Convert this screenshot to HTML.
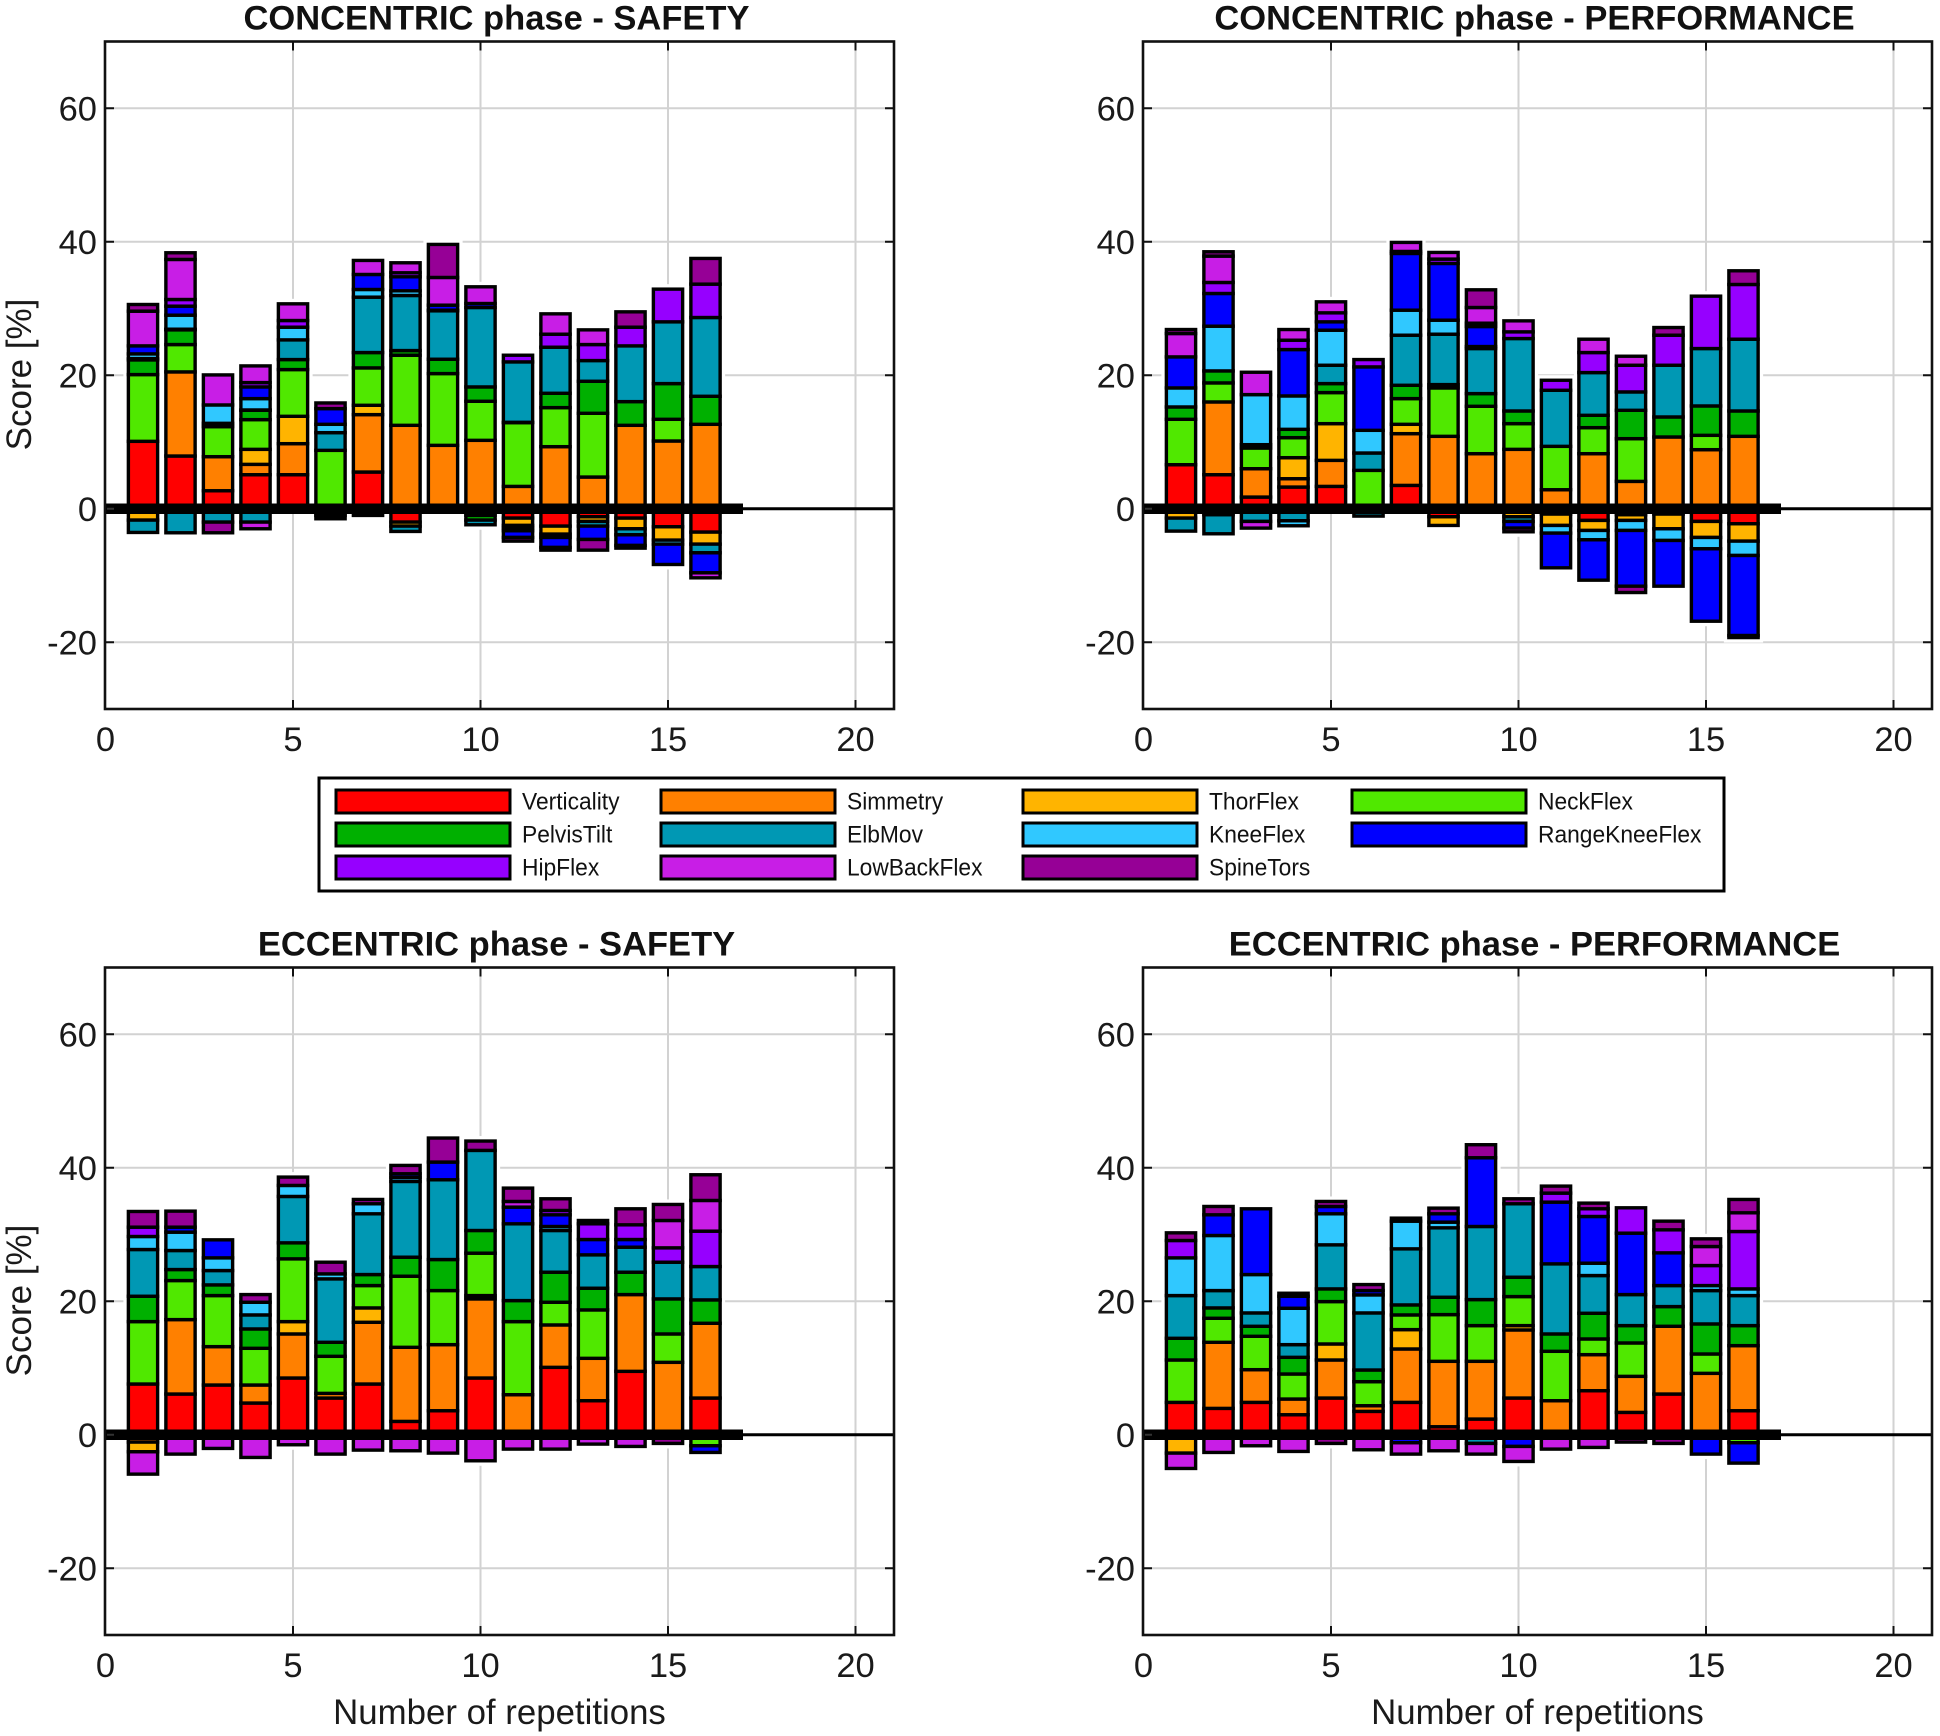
<!DOCTYPE html>
<html>
<head>
<meta charset="utf-8">
<title>Score per repetition</title>
<style>
html,body{margin:0;padding:0;background:#fff;}
svg{display:block;font-family:"Liberation Sans",Arial,sans-serif;}
</style>
</head>
<body>
<svg id="chart" xmlns="http://www.w3.org/2000/svg" width="1940" height="1736" viewBox="0 0 1940 1736"></svg>
<script>
/* Series, in stacking order */
const seriesNames = ["Verticality","Simmetry","ThorFlex","NeckFlex","PelvisTilt","ElbMov","KneeFlex","RangeKneeFlex","HipFlex","LowBackFlex","SpineTors"];
const seriesColors = ["#ff0000","#ff8000","#ffb400","#50e800","#00b000","#0098b4","#30c8ff","#0000ff","#9600ff","#c81ee6","#960096"];
const repetitions = [1,2,3,4,5,6,7,8,9,10,11,12,13,14,15,16];
const xTicks = [0,5,10,15,20];
const yTicks = [-20,0,20,40,60];

/* One row per repetition, columns follow seriesNames. Pos rows stack upward, Neg rows (magnitudes) stack downward. */
const concSafetyPos = [
[10.1,0,0,10,2.2,.2,.7,1.2,0,5.2,1],
[7.9,12.6,0,4.1,2.2,.1,2.1,1.35,1,6,1],
[2.7,5.1,0,4.5,.5,0,2.75,0,0,4.5,0],
[5.1,1.55,2.25,4.45,1.4,.05,1.7,1.75,.65,2.5,0],
[5.1,4.65,4.1,7,1.5,2.95,1.9,0,1,2.5,0],
[0,0,0,8.75,0,2.65,1.25,2.35,0,0,.85],
[5.5,8.6,1.4,5.6,2.3,8.3,1.15,2.25,0,2.1,0],
[0,12.5,0,10.5,.7,8.25,.7,2.1,.6,1.5,0],
[0,9.5,0,10.75,2.15,7.25,.1,.75,0,4.15,4.95],
[0,10.25,0,5.85,2.15,11.9,0,.6,0,2.5,0],
[0,3.35,0,9.55,.05,9.05,0,0,1,0,0],
[0,9.3,0,5.85,2.15,6.9,0,0,1.95,3.05,0],
[0,4.75,0,9.55,4.8,3.1,0,0,2.4,2.2,0],
[0,12.5,0,0,3.55,8.35,0,0,2.8,0,2.3],
[0,10.15,0,3.25,5.35,9.25,0,0,4.9,0,0],
[0,12.65,0,0,4.2,11.8,0,0,5,0,3.85]
];
const concSafetyNeg = [
[0,0,1.7,0,0,1.85,0,0,0,0,0],
[0,0,0,0,0,3.6,0,0,0,0,0],
[0,0,0,0,0,2,0,0,0,0,1.6],
[0,0,0,0,0,2,0,0,0,1,0],
[0,0,0,0,0,0,0,0,0,0,0],
[0,0,0,0,.5,.5,.5,0,0,0,0],
[0,0,0,0,.5,.5,0,0,0,0,0],
[2,0,.6,0,0,.8,0,0,0,0,0],
[0,0,0,0,0,0,0,0,0,0,0],
[0,0,1,0,.7,.7,0,0,0,0,0],
[1.4,0,1.1,0,.4,.4,0,1,0,0,.55],
[2.6,0,1.2,0,0,.5,0,1.5,0,0,.4],
[1.2,0,.7,0,0,.7,0,2,0,0,1.6],
[1.4,0,1.6,0,0,.9,0,1.6,0,0,.4],
[2.7,0,2,0,0,0,.6,3.05,0,0,0],
[3.5,0,1.8,0,0,1.3,0,3,0,.75,0]
];
const concPerfPos = [
[6.6,0,0,6.8,1.85,0,2.85,4.65,0,3.5,.6],
[5.1,10.9,0,2.85,1.8,0,6.7,4.9,1.65,3.95,.65],
[1.75,4.25,0,3.1,.5,0,7.5,0,0,3.35,0],
[3.25,1.25,3.15,3,1.25,0,5,6.95,1.4,1.6,0],
[3.35,3.9,5.5,4.65,1.35,2.75,5.25,1.25,1.35,1.65,0],
[0,0,0,5.75,0,2.6,3.4,9.5,1.1,0,0],
[3.5,7.75,1.4,3.85,2,7.5,3.75,8.5,.3,1.35,0],
[0,10.85,0,7.25,.5,7.55,2.1,8.5,.65,1,0],
[0,8.25,0,7.1,1.9,6.75,.3,3,.5,2.35,2.65],
[0,8.9,0,3.85,1.9,10.85,0,0,1,1.65,0],
[0,2.85,0,6.5,0,8.4,0,0,1.5,0,0],
[0,8.25,0,3.9,1.85,6.4,0,0,3,2,0],
[0,4.1,0,6.4,4.25,2.75,0,0,4,1.35,0],
[0,10.75,0,0,3,7.75,0,0,4.5,0,1.15],
[0,8.85,0,2.15,4.4,8.6,0,0,7.85,0,0],
[0,10.85,0,0,3.8,10.75,0,0,8.2,0,2.05]
];
const concPerfNeg = [
[0,0,1.4,0,0,1.95,0,0,0,0,0],
[0,.9,0,0,0,2.85,0,0,0,0,0],
[0,0,0,0,0,1.9,0,0,0,1,0],
[0,0,0,0,0,1.8,.75,0,0,0,0],
[0,0,0,0,0,0,0,0,0,0,0],
[0,0,0,0,.5,.6,0,0,0,0,0],
[0,0,0,0,0,0,0,0,0,0,0],
[1.2,0,1.3,0,0,0,0,0,0,0,0],
[0,0,0,0,0,0,0,0,0,0,0],
[0,0,1.2,0,0,.7,0,1,0,0,.55],
[.8,0,1.7,0,0,0,1.15,5.2,0,0,0],
[1.75,0,1.5,0,0,0,1.4,6.05,0,0,0],
[.9,0,.85,0,0,0,1.5,8.35,0,0,.95],
[.8,0,2.2,0,0,0,1.75,6.85,0,0,0],
[1.9,0,2.4,0,0,0,1.7,10.85,0,0,0],
[2.25,0,2.6,0,0,0,2.15,12,0,0,.3]
];
const eccSafetyPos = [
[7.6,0,0,9.35,3.8,7,1.95,0,1.4,0,2.35],
[6.1,11.15,0,5.85,1.65,2.85,2.75,.75,0,0,2.4],
[7.45,5.75,0,7.65,1.6,2.15,1.9,2.7,0,0,0],
[4.75,2.7,0,5.5,2.9,2.1,1.9,0,0,0,1.15],
[8.5,6.6,1.85,9.4,2.4,6.95,1.65,0,0,0,1.25],
[5.5,.7,0,5.55,2.1,9.5,.75,0,0,0,1.75],
[7.6,9.25,2.15,3.35,1.65,9.1,1.5,0,0,0,.65],
[2,11.1,0,10.65,2.85,11.35,.6,.55,0,0,1.25],
[3.6,9.9,0,8.1,4.65,11.95,0,2.65,0,0,3.6],
[8.5,11.85,.5,6.35,3.4,12,0,0,0,0,1.4],
[0,6,0,10.95,3.15,11.5,0,2.5,0,.85,2],
[10.1,6.35,0,3.4,4.5,6.25,.6,1.75,.65,0,1.75],
[5.1,6.35,0,7.25,3.25,5,0,2.3,2.35,0,.5],
[9.5,11.5,0,0,3.35,3.75,0,1.15,2.2,0,2.4],
[.3,10.55,0,4.25,5.25,5.5,0,0,2.15,4.1,2.4],
[5.5,11.2,0,0,3.5,5,0,0,5.3,4.6,3.85]
];
const eccSafetyNeg = [
[0,1.1,1.45,0,0,0,0,0,0,3.35,0],
[0,0,0,0,0,0,0,0,0,2.9,0],
[0,0,0,0,0,0,0,0,0,2.05,0],
[0,0,0,0,0,0,0,0,0,3.4,0],
[0,0,0,0,0,0,0,0,0,1.5,0],
[0,0,0,0,0,0,0,0,0,2.9,0],
[0,0,0,0,0,0,0,0,0,2.3,0],
[0,0,0,0,0,0,0,0,0,2.4,0],
[0,0,0,0,0,0,0,0,0,2.75,0],
[0,0,0,0,0,0,0,0,0,3.9,0],
[0,0,0,0,0,0,0,0,0,2.15,0],
[0,0,0,0,0,0,0,0,0,2.15,0],
[0,0,0,0,0,0,0,0,0,1.4,0],
[0,0,0,0,0,0,0,0,0,1.75,0],
[0,0,0,0,0,0,0,0,0,0,1.3],
[0,0,0,1.65,0,0,0,1,0,0,0]
];
const eccPerfPos = [
[4.85,0,0,6.35,3.25,6.4,5.65,0,2.6,0,1.15],
[3.95,9.9,0,3.6,1.55,2.6,8.25,3.1,0,0,1.25],
[4.85,4.9,0,5,1.5,2,5.75,9.85,0,0,0],
[3,2.35,0,3.75,2.5,1.9,5.45,1.8,0,0,.45],
[5.5,5.7,2.4,6.35,1.9,6.6,4.65,1.1,0,0,.75],
[3.5,.85,0,3.6,1.75,8.55,2.7,.65,0,0,.9],
[4.85,8,2.9,2.2,1.5,8.4,4.15,.45,0,0,0],
[1.2,9.8,0,7,2.6,10.4,.85,1.25,0,0,.85],
[2.35,8.65,0,5.35,3.9,10.95,0,10.3,0,0,1.95],
[5.5,10.2,.65,4.35,2.9,11,0,0,0,0,.75],
[0,5.1,0,7.4,2.6,10.5,0,9.25,1.35,0,1.05],
[6.6,5.4,0,2.35,3.85,5.65,1.85,7,1.15,0,.85],
[3.35,5.4,0,5,2.6,4.65,0,9.2,3.8,0,0],
[6.1,10.15,0,0,2.95,3.15,0,4.9,3.45,0,1.3],
[0,9.2,0,2.9,4.5,5,.75,0,3,2.85,1.15],
[3.6,9.75,0,0,3,4.5,1,0,8.6,2.8,2]
];
const eccPerfNeg = [
[0,0,2.75,0,0,0,0,0,0,2.3,0],
[0,0,0,0,0,0,0,0,0,2.65,0],
[0,0,0,0,0,0,0,0,0,1.65,0],
[0,0,0,0,0,0,0,0,0,2.5,0],
[0,0,0,0,0,0,0,0,0,0,1.3],
[0,0,0,0,0,0,0,0,0,2.25,0],
[0,0,0,0,0,0,0,1.2,0,1.7,0],
[0,0,0,0,0,0,0,0,0,2.4,0],
[0,0,0,0,0,1.3,0,0,0,1.6,0],
[0,0,0,0,0,0,0,1.75,0,2.25,0],
[0,0,0,0,0,0,0,0,0,2.15,0],
[0,0,0,0,0,0,0,0,0,1.9,0],
[0,0,0,0,0,0,0,0,0,0,1.1],
[0,0,0,0,0,0,0,0,0,0,1.3],
[0,0,0,0,0,0,0,2.9,0,0,0],
[0,0,0,1.2,0,0,0,3.05,0,0,0]
];

const panels = [
  {key:"conc-safety", title:"CONCENTRIC phase - SAFETY", left:105, top:41.5, pos:concSafetyPos, neg:concSafetyNeg, yLabel:true, xLabel:false},
  {key:"conc-perf", title:"CONCENTRIC phase - PERFORMANCE", left:1143, top:41.5, pos:concPerfPos, neg:concPerfNeg, yLabel:false, xLabel:false},
  {key:"ecc-safety", title:"ECCENTRIC phase - SAFETY", left:105, top:967.5, pos:eccSafetyPos, neg:eccSafetyNeg, yLabel:true, xLabel:true},
  {key:"ecc-perf", title:"ECCENTRIC phase - PERFORMANCE", left:1143, top:967.5, pos:eccPerfPos, neg:eccPerfNeg, yLabel:false, xLabel:true}
];

const NS = "http://www.w3.org/2000/svg";
const svg = document.getElementById("chart");
const pxPerX = 37.5, pxPerY = 6.675, xMax = 21, yMax = 70, yMin = -30, barWidth = 0.78;

function make(parent, tag, attrs, text) {
  const n = document.createElementNS(NS, tag);
  for (const k in attrs) n.setAttribute(k, attrs[k]);
  if (text !== undefined) n.textContent = text;
  parent.appendChild(n);
  return n;
}

function drawSegments(group, xs, ys, row, dir, rep) {
  let acc = 0;
  row.forEach(function (v, s) {
    if (!v) return;
    const y0 = ys(dir * acc);
    const y1 = ys(dir * (acc + v));
    const seg = make(group, "rect", {
      x: xs(rep) - barWidth * pxPerX / 2,
      y: Math.min(y0, y1),
      width: barWidth * pxPerX,
      height: Math.abs(y1 - y0),
      fill: seriesColors[s],
      stroke: "#000",
      "stroke-width": 3.4
    });
    
    
    acc += v;
  });
}

function drawPanel(p) {
  const g = make(svg, "g", {});
  
  
  const xs = function (v) { return p.left + 0.5 + v * pxPerX; };
  const ys = function (v) { return p.top + (yMax - v) * pxPerY; };
  const right = xs(xMax) + 1, bottom = ys(yMin), top = ys(yMax), left = p.left;

  xTicks.forEach(function (t) {
    if (t === 0) return;
    const line = make(g, "line", {x1: xs(t), x2: xs(t), y1: top, y2: bottom, stroke: "#d2d2d2", "stroke-width": 2});
    
    
  });
  yTicks.forEach(function (t) {
    if (t === 0) return;
    const line = make(g, "line", {x1: left, x2: right, y1: ys(t), y2: ys(t), stroke: "#d2d2d2", "stroke-width": 2});
    
    
  });

  /* white halo that interrupts the grid around each stacked bar */
  repetitions.forEach(function (rep, i) {
    const up = p.pos[i].reduce(function (a, b) { return a + b; }, 0);
    const down = p.neg[i].reduce(function (a, b) { return a + b; }, 0);
    const halo = make(g, "rect", {
      x: xs(rep) - barWidth * pxPerX / 2 - 5,
      y: ys(up) - 5,
      width: barWidth * pxPerX + 10,
      height: ys(-down) - ys(up) + 10,
      fill: "#fff"
    });
    
    
  });

  repetitions.forEach(function (rep, i) {
    const stack = make(g, "g", {});
    
    
    drawSegments(stack, xs, ys, p.pos[i], 1, rep);
    drawSegments(stack, xs, ys, p.neg[i], -1, rep);
  });

  const band = make(g, "line", {x1: left, x2: xs(17), y1: ys(0), y2: ys(0), stroke: "#000", "stroke-width": 10.5});
  
  
  const zero = make(g, "line", {x1: left, x2: right, y1: ys(0), y2: ys(0), stroke: "#000", "stroke-width": 3});
  
  
  const zeroTick = make(g, "line", {x1: left + 2, x2: left + 9, y1: ys(0), y2: ys(0), stroke: "#333", "stroke-width": 2});
  
  

  xTicks.forEach(function (t) {
    if (t !== 0) {
      const t1 = make(g, "line", {x1: xs(t), x2: xs(t), y1: bottom, y2: bottom - 9, stroke: "#111", "stroke-width": 2});
      
      
      const t2 = make(g, "line", {x1: xs(t), x2: xs(t), y1: top, y2: top + 9, stroke: "#111", "stroke-width": 2});
      
      
    }
    const lab = make(g, "text", {x: xs(t), y: bottom + 42, "text-anchor": "middle", "font-size": 34.5, fill: "#1a1a1a"}, String(t));
    
    
  });
  yTicks.forEach(function (t) {
    if (t !== 0) {
      const t1 = make(g, "line", {x1: left, x2: left + 9, y1: ys(t), y2: ys(t), stroke: "#111", "stroke-width": 2});
      
      
      const t2 = make(g, "line", {x1: right, x2: right - 9, y1: ys(t), y2: ys(t), stroke: "#111", "stroke-width": 2});
      
      
    }
    const lab = make(g, "text", {x: left - 8, y: ys(t) + 12, "text-anchor": "end", "font-size": 34.5, fill: "#1a1a1a"}, String(t));
    
    
  });

  const frame = make(g, "rect", {x: left, y: top, width: right - left, height: bottom - top, fill: "none", stroke: "#111", "stroke-width": 2.6});
  
  

  const title = make(g, "text", {x: (left + right) / 2 - 3, y: top - 12, "text-anchor": "middle", "font-size": 34.5, "font-weight": "bold", fill: "#111"}, p.title);
  
  

  if (p.yLabel) {
    const yl = make(g, "text", {x: 0, y: 0, transform: "translate(31," + (top + 333) + ") rotate(-90)", "text-anchor": "middle", "font-size": 35, fill: "#1a1a1a"}, "Score [%]");
    
    
  }
  if (p.xLabel) {
    const xl = make(g, "text", {x: (left + right) / 2, y: bottom + 89, "text-anchor": "middle", "font-size": 34.8, fill: "#1a1a1a"}, "Number of repetitions");
    
    
  }
}
panels.forEach(drawPanel);

/* Legend */
const legendColumns = [336, 661, 1023, 1352];
const legendRows = [790, 823, 856];
const legend = make(svg, "g", {});


const legendBox = make(legend, "rect", {x: 319, y: 778, width: 1405, height: 113, fill: "#fff", stroke: "#000", "stroke-width": 3});


seriesNames.forEach(function (name, i) {
  const cx = legendColumns[i % 4];
  const cy = legendRows[Math.floor(i / 4)];
  const entry = make(legend, "g", {});
  
  
  const sw = make(entry, "rect", {x: cx, y: cy, width: 174, height: 23, fill: seriesColors[i], stroke: "#000", "stroke-width": 3});
  
  
  const lab = make(entry, "text", {transform: "translate(" + (cx + 186) + "," + (cy + 19.5) + ") scale(.95,1)", "font-size": 24, fill: "#111"}, name);
  
  
});
</script>
</body>
</html>
